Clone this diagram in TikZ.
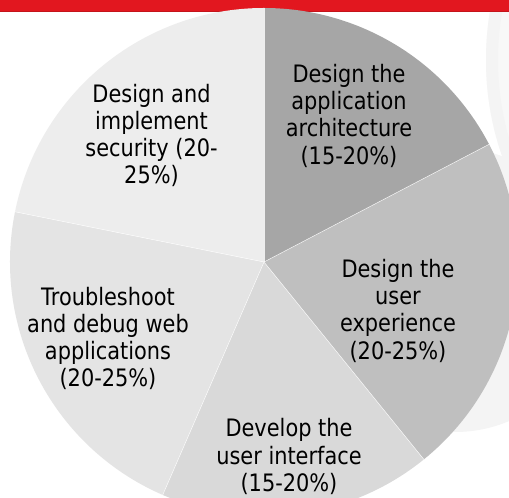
\documentclass[tikz,border=0pt]{standalone}
\usepackage{fontspec}
\setmainfont{DejaVu Sans}[FakeStretch=0.87]
\definecolor{barred}{HTML}{E2171F}
\definecolor{bardark}{HTML}{C4141B}
\definecolor{decor}{HTML}{F4F4F4}
\definecolor{decorlight}{HTML}{F8F8F8}
\definecolor{sliceA}{HTML}{A6A6A6}
\definecolor{sliceB}{HTML}{BFBFBF}
\definecolor{sliceC}{HTML}{D9D9D9}
\definecolor{sliceD}{HTML}{E4E4E4}
\definecolor{sliceE}{HTML}{EDEDED}
\tikzset{
  slicelabel/.style={align=center, inner sep=0pt, text=black,
    font=\fontsize{24bp}{27.3bp}\selectfont},
  separator/.style={draw=white, line width=0.5bp, draw opacity=0.8},
}
\begin{document}
\begin{tikzpicture}[x=1bp,y=1bp]
  \useasboundingbox (0,0) rectangle (509,498);
  \clip (0,0) rectangle (509,498);
  \fill[white] (0,0) rectangle (509,498);

  % faint background decoration on the right
  \fill[decor] (455,208) ellipse[x radius=140, y radius=142];
  \fill[decorlight] (779,438) circle[radius=293];
  \draw[decor, line width=12bp] (779,438) circle[radius=287];

  % red title bar
  \fill[barred] (0,486) rectangle (509,498);
  \draw[bardark, line width=1bp] (0,486.5) -- (509,486.5);

  % pie chart
  \coordinate (O) at (264,236);
  \def\R{254}
  \fill[sliceA] (O) -- ++(90:\R) arc[start angle=90, end angle=27.6, radius=\R] -- cycle;
  \fill[sliceB] (O) -- ++(27.6:\R) arc[start angle=27.6, end angle=-51.0, radius=\R] -- cycle;
  \fill[sliceC] (O) -- ++(-51.0:\R) arc[start angle=-51.0, end angle=-113.5, radius=\R] -- cycle;
  \fill[sliceD] (O) -- ++(-113.5:\R) arc[start angle=-113.5, end angle=-191.4, radius=\R] -- cycle;
  \fill[sliceE] (O) -- ++(168.6:\R) arc[start angle=168.6, end angle=90, radius=\R] -- cycle;

  % slice separators
  \coordinate (s1) at ([shift={(90:\R)}]O);
  \coordinate (s2) at ([shift={(27.6:\R)}]O);
  \coordinate (s3) at ([shift={(-51.0:\R)}]O);
  \coordinate (s4) at ([shift={(-113.5:\R)}]O);
  \coordinate (s5) at ([shift={(168.6:\R)}]O);
  \foreach \s in {s1,s2,s3,s4,s5} \draw[separator] (O) -- (\s);

  % slice labels
  \node[slicelabel] (arch) at (349,382.25) {Design the\\application\\architecture\\(15-20\%)};
  \node[slicelabel] (ux) at (398,187.25) {Design the\\user\\experience\\(20-25\%)};
  \node[slicelabel] (ui) at (289,41.5) {Develop the\\user interface\\(15-20\%)};
  \node[slicelabel] (debug) at (108,159.5) {Troubleshoot\\and debug web\\applications\\(20-25\%)};
  \node[slicelabel] (sec) at (151.5,362.5) {Design and\\implement\\security (20-\\25\%)};
\end{tikzpicture}
\end{document}
